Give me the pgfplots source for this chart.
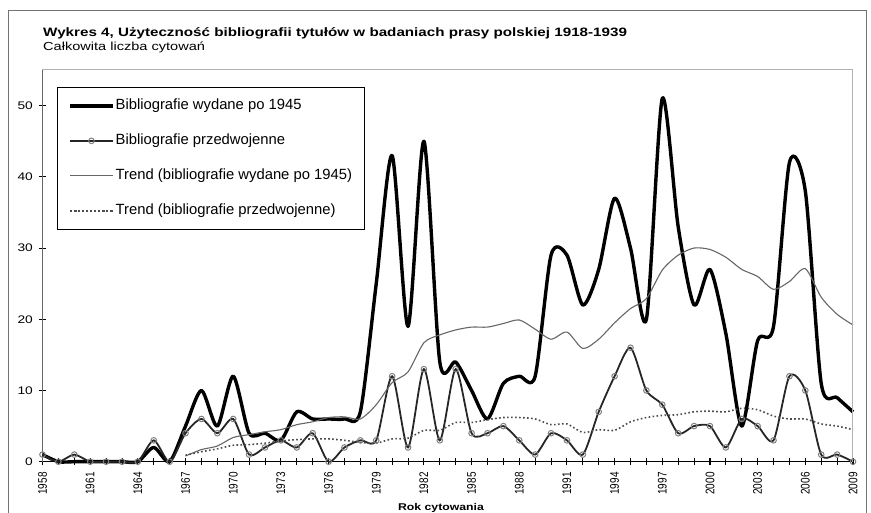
\documentclass[border=0pt]{standalone}
\usepackage{pgfplots}
\pgfplotsset{compat=1.18}
\usepackage{pgfplotstable}
\usepackage{fontspec}
\setmainfont{Liberation Sans}
\newfontfamily\wide{Liberation Sans}[FakeStretch=1.25]

\pgfplotstableread{
year val
1958 1
1959 0
1960 0
1961 0
1962 0
1963 0
1964 0
1965 2
1966 0
1967 5
1968 10
1969 5
1970 12
1971 4
1972 4
1973 3
1974 7
1975 6
1976 6
1977 6
1978 7
1979 25
1980 43
1981 19
1982 45
1983 14
1984 14
1985 10
1986 6
1987 11
1988 12
1989 12
1990 29
1991 29
1992 22
1993 27
1994 37
1995 30
1996 20
1997 51
1998 33
1999 22
2000 27
2001 18
2002 5
2003 17
2004 19
2005 42
2006 38
2007 11
2008 9
2009 7
}\postwar

\pgfplotstableread{
year val
1958 1
1959 0
1960 1
1961 0
1962 0
1963 0
1964 0
1965 3
1966 0
1967 4
1968 6
1969 4
1970 6
1971 1
1972 2
1973 3
1974 2
1975 4
1976 0
1977 2
1978 3
1979 3
1980 12
1981 2
1982 13
1983 3
1984 13
1985 4
1986 4
1987 5
1988 3
1989 1
1990 4
1991 3
1992 1
1993 7
1994 12
1995 16
1996 10
1997 8
1998 4
1999 5
2000 5
2001 2
2002 6
2003 5
2004 3
2005 12
2006 10
2007 1
2008 1
2009 0
}\prewar

\pgfplotstableread{
year val
1967 0.8
1968 1.7
1969 2.2
1970 3.4
1971 3.8
1972 4.2
1973 4.5
1974 5.2
1975 5.6
1976 6.2
1977 6.3
1978 6.0
1979 8.0
1980 11.1
1981 12.6
1982 16.7
1983 17.8
1984 18.5
1985 18.9
1986 18.9
1987 19.4
1988 19.9
1989 18.6
1990 17.2
1991 18.2
1992 15.9
1993 17.2
1994 19.5
1995 21.5
1996 22.9
1997 26.9
1998 29.0
1999 30.0
2000 29.8
2001 28.7
2002 27.0
2003 26.0
2004 24.2
2005 25.3
2006 27.1
2007 23.1
2008 20.7
2009 19.2
}\trendpost

\pgfplotstableread{
year val
1967 0.9
1968 1.4
1969 1.8
1970 2.3
1971 2.4
1972 2.6
1973 2.9
1974 3.1
1975 3.2
1976 3.2
1977 3.0
1978 2.7
1979 2.6
1980 3.2
1981 3.3
1982 4.4
1983 4.4
1984 5.5
1985 5.5
1986 5.9
1987 6.2
1988 6.2
1989 6.0
1990 5.2
1991 5.3
1992 4.1
1993 4.5
1994 4.4
1995 5.6
1996 6.2
1997 6.5
1998 6.6
1999 7.0
2000 7.1
2001 7.0
2002 7.5
2003 7.3
2004 6.4
2005 6.0
2006 6.0
2007 5.3
2008 5.0
2009 4.5
}\trendpre

\begin{document}
\begin{tikzpicture}
\useasboundingbox (0pt,0pt) rectangle (871pt,513pt);
\draw[black!55, line width=0.8pt] (8.3pt,-2pt) -- (8.3pt,503pt) -- (866pt,503pt) -- (866pt,-2pt);
\node[anchor=base west, inner sep=0pt, font=\wide\bfseries\fontsize{12.15}{14}\selectfont] at (43pt,476.3pt) {Wykres 4, Użyteczność bibliografii tytułów w badaniach prasy polskiej 1918-1939};
\node[anchor=base west, inner sep=0pt, font=\wide\fontsize{11.65}{14}\selectfont] at (43pt,462.3pt) {Całkowita liczba cytowań};
\node[anchor=base, inner sep=0pt, font=\wide\bfseries\fontsize{9.8}{12}\selectfont] at (441pt,2pt) {Rok cytowania};
\begin{axis}[
  at={(42.5pt,51.3pt)}, anchor=south west,
  scale only axis, width=810.5pt, height=391.7pt,
  xmin=1958, xmax=2009, ymin=0, ymax=55,
  axis lines*=left,
  x axis line style={black, line width=1pt, -},
  y axis line style={black!60, line width=1pt, -},
  xtick={1958,1961,...,2009},
  minor xtick={1958,...,2009},
  ytick={0,10,...,50},
  tick align=center, major tick length=7pt, minor tick length=7pt,
  every tick/.style={black, line width=0.9pt},
  /pgf/number format/assume math mode=true,
  /pgf/number format/1000 sep={},
  yticklabel style={font=\wide\fontsize{11}{11}\selectfont, anchor=east, inner sep=0pt, xshift=-6pt},
  xticklabel style={font=\fontsize{10}{10}\selectfont, inner sep=0pt, yshift=-7pt, rotate=90, yscale=1.25, anchor=east},
  clip=false,
  legend image code/.code={\draw[mark repeat=2,mark phase=2,#1] plot coordinates {(0pt,0pt) (21pt,0pt) (42pt,0pt)};},
  legend cell align=left,
  legend style={at={(axis description cs:0.01826,0.9574)}, anchor=north west,
    draw=black, line width=0.9pt, fill=white,
    inner xsep=11pt, inner ysep=10pt, row sep=17.5pt,
    nodes={inner sep=1.5pt, text height=11pt, text depth=3.5pt},
    font=\fontsize{14.8}{16}\selectfont},
]
\addplot[black, line width=3.4pt, smooth, tension=0.45, line join=round] table[x=year,y=val] {\postwar};
\addlegendentry{Bibliografie wydane po 1945}
\addplot[black!85, line width=1.8pt, smooth, tension=0.45, mark=o, mark size=2.8pt, mark options={draw=black!50, line width=1pt, solid}] table[x=year,y=val] {\prewar};
\addlegendentry{Bibliografie przedwojenne}
\addplot[black!60, line width=1.1pt, smooth, tension=0.45] table[x=year,y=val] {\trendpost};
\addlegendentry{Trend (bibliografie wydane po 1945)}
\addplot[black!70, line width=1.6pt, smooth, tension=0.45, dash pattern=on 1.6pt off 2.4pt] table[x=year,y=val] {\trendpre};
\addlegendentry{Trend (bibliografie przedwojenne)}
\draw[black!30, line width=1pt] (rel axis cs:0,1) -- (rel axis cs:1,1) -- (rel axis cs:1,0);
\end{axis}
\end{tikzpicture}
\end{document}
